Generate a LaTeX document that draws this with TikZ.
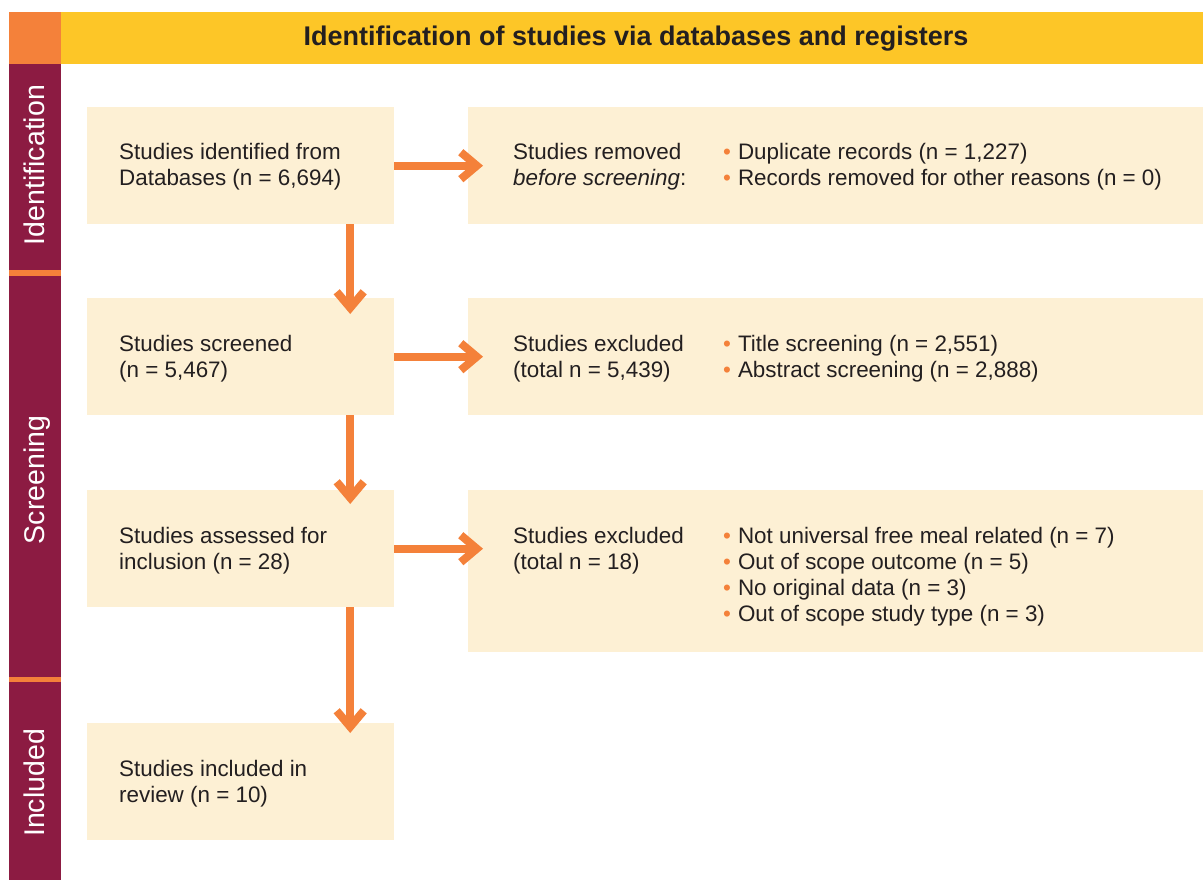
\documentclass[tikz,border=0pt]{standalone}
\usepackage{fontspec}
\setmainfont{Liberation Sans}
\usetikzlibrary{arrows.meta,calc}
\definecolor{cyellow}{HTML}{FDC627}
\definecolor{corange}{HTML}{F4813A}
\definecolor{cmaroon}{HTML}{8C1B42}
\definecolor{ccream}{HTML}{FDF0D4}
\definecolor{ctext}{HTML}{231F20}
\newcommand\rows[1]{\begin{tabular}[t]{@{}l@{}}#1\end{tabular}}
\newcommand\bullets[1]{\begin{tabular}[t]{@{}l@{\hspace{7pt}}l@{}}#1\end{tabular}}
\newcommand\bul{\textcolor{corange}{\textbullet}}
\begin{document}
\begin{tikzpicture}[x=1pt,y=-1pt,
  box/.style={fill=ccream, draw=none, inner sep=0, anchor=north west},
  leftbox/.style={box, minimum width=307pt, minimum height=117pt},
  rightbox/.style={box, minimum width=735pt, minimum height=117pt},
  txt/.style={anchor=base west, inner sep=0, text=ctext, font=\fontsize{22.4}{26}\selectfont},
  flow/.style={draw=corange, line width=8pt, -{Straight Barb[length=16pt,width=27pt]}},
  side/.style={text=white, rotate=90, anchor=base, font=\fontsize{28.5}{30}\selectfont, inner sep=0}
]
\useasboundingbox (0,0) rectangle (1203,880);
% header and side bar
\fill[cyellow] (61,12) rectangle (1203,64);
\fill[corange] (9,12) rectangle (61,64);
\fill[cmaroon] (9,64) rectangle (61,880);
\fill[corange] (9,270) rectangle (61,275.5);
\fill[corange] (9,676.5) rectangle (61,682);
\node[text=ctext, inner sep=0, font=\bfseries\fontsize{27}{30}\selectfont] (title) at (636,39) {Identification of studies via databases and registers};
\node[side] (sidA) at (45,165) {Identification};
\node[side] (sidB) at (45,480) {Screening};
\node[side] (sidC) at (45,783) {Included};
% boxes
\node[leftbox] (b1) at (87,107) {};
\node[leftbox] (b2) at (87,298) {};
\node[leftbox] (b3) at (87,490) {};
\node[leftbox] (b4) at (87,723) {};
\node[rightbox] (r1) at (468,107) {};
\node[rightbox] (r2) at (468,298) {};
\node[rightbox, minimum height=162pt] (r3) at (468,490) {};
% texts
\node[txt] (t1) at (119,160) {\rows{Studies identified from\\Databases (n = 6,694)}};
\node[txt] (t2) at (119,351) {\rows{Studies screened\\(n = 5,467)}};
\node[txt] (t3) at (119,543) {\rows{Studies assessed for\\inclusion (n = 28)}};
\node[txt] (t4) at (119,776) {\rows{Studies included in\\review (n = 10)}};
\node[txt] (u1) at (513,160) {\rows{Studies removed\\\textit{before screening}:}};
\node[txt] (u2) at (513,351) {\rows{Studies excluded\\(total n = 5,439)}};
\node[txt] (u3) at (513,543) {\rows{Studies excluded\\(total n = 18)}};
\node[txt] (v1) at (723,160) {\bullets{\bul & Duplicate records (n = 1,227)\\ \bul & Records removed for other reasons (n = 0)}};
\node[txt] (v2) at (723,351) {\bullets{\bul & Title screening (n = 2,551)\\ \bul & Abstract screening (n = 2,888)}};
\node[txt] (v3) at (723,543) {\bullets{\bul & Not universal free meal related (n = 7)\\ \bul & Out of scope outcome (n = 5)\\ \bul & No original data (n = 3)\\ \bul & Out of scope study type (n = 3)}};
% arrows
\draw[flow] (b1.east) -- ($(r1.west)+(15,0)$);
\draw[flow] (b2.east) -- ($(r2.west)+(15,0)$);
\draw[flow] (b3.east) -- ($(r3.west)+(15,-22.5)$);
\draw[flow] ($(b1.south)+(109.5,0)$) -- ($(b2.north)+(109.5,16)$);
\draw[flow] ($(b2.south)+(109.5,0)$) -- ($(b3.north)+(109.5,14)$);
\draw[flow] ($(b3.south)+(109.5,0)$) -- ($(b4.north)+(109.5,10)$);
\end{tikzpicture}
\end{document}
